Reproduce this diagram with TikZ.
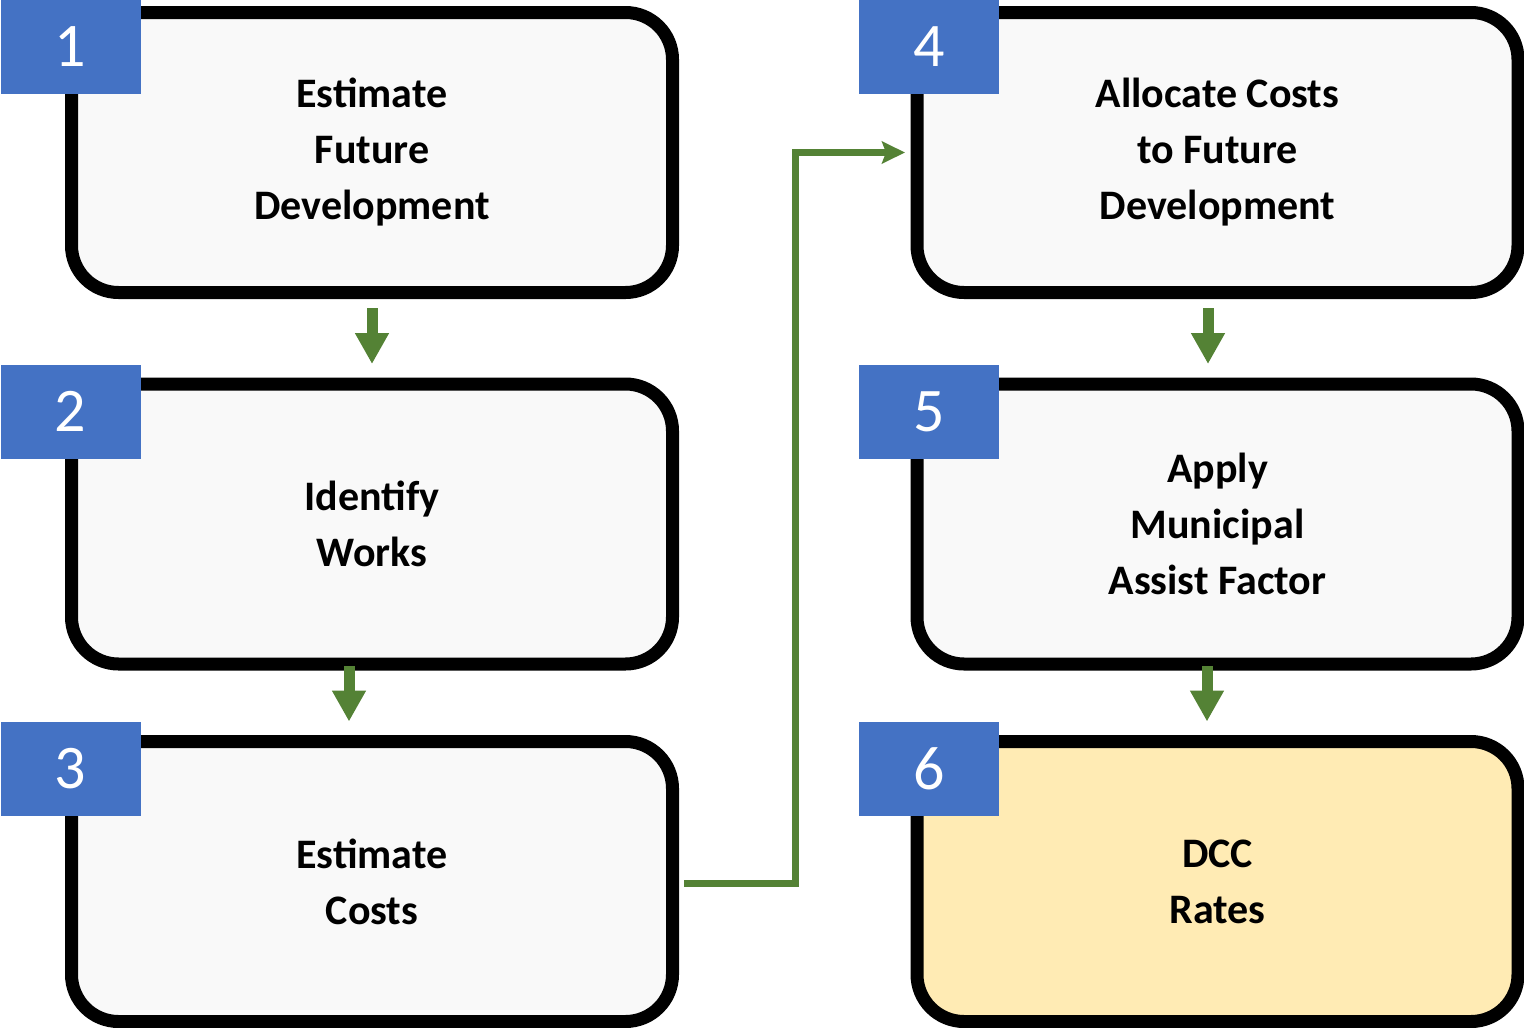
\documentclass[tikz,border=0pt]{standalone}
\usepackage{fontspec}
\setmainfont{Carlito}
\usetikzlibrary{arrows.meta}

\definecolor{boxgray}{HTML}{F9F9F9}
\definecolor{rateyellow}{HTML}{FFEBB4}
\definecolor{badgeblue}{HTML}{4472C4}
\definecolor{flowgreen}{HTML}{548235}

\tikzset{
  box/.style={draw, line width=13pt, rounded corners=47pt, fill=boxgray,
    minimum width=601pt, minimum height=280pt, align=center,
    font=\fontsize{42}{56}\selectfont\bfseries},
  badge/.style={fill=badgeblue, text=white, minimum width=140pt,
    minimum height=94pt, inner sep=0pt, font=\fontsize{62}{62}\selectfont},
  down/.style={draw=flowgreen, line width=11pt, -{Triangle[width=32pt,length=31pt]}},
  link/.style={draw=flowgreen, line width=7pt, -{Stealth[width=22pt,length=23pt,inset=4pt]}}
}

\begin{document}
\begin{tikzpicture}[x=1pt, y=-1pt]
        \useasboundingbox (0,0) rectangle (1524,1028);

        \node[box] (b1) at (372,152.5) {Estimate\\Future\\Development};
        \node[box] (b2) at (372,524) {Identify\\Works};
        \node[box] (b3) at (372,881.5) {Estimate\\Costs};
        \node[box] (b4) at (1217.5,152.5) {Allocate Costs\\to Future\\Development};
        \node[box] (b5) at (1217.5,524) {Apply\\Municipal\\Assist Factor};
        \node[box, fill=rateyellow] (b6) at (1217.5,881.5) {DCC\\Rates};

        \node[badge] (n1) at (70.5,46.5) {1};
        \node[badge] (n2) at (70.5,411.5) {2};
        \node[badge] (n3) at (70.5,768.5) {3};
        \node[badge] (n4) at (929,46.5) {4};
        \node[badge] (n5) at (929,411.5) {5};
        \node[badge] (n6) at (929,768.5) {6};

        \draw[down] ([yshift=-9pt]b1.south) -- ([yshift=13.5pt]b2.north);
        \draw[down] ([xshift=-23pt,yshift=4.5pt]b2.south) -- ([xshift=-23pt,yshift=13.5pt]b3.north);
        %
        \draw[link] ([xshift=5pt,yshift=-2pt]b3.east) -| ([xshift=-115.5pt]b4.west) -- ([xshift=-5.5pt]b4.west);
        %
        \draw[down] ([xshift=-9.5pt,yshift=-9pt]b4.south) -- ([xshift=-9.5pt,yshift=13.5pt]b5.north);
        \draw[down] ([xshift=-10.5pt,yshift=4.5pt]b5.south) -- ([xshift=-10.5pt,yshift=13.5pt]b6.north);
\end{tikzpicture}
\end{document}
